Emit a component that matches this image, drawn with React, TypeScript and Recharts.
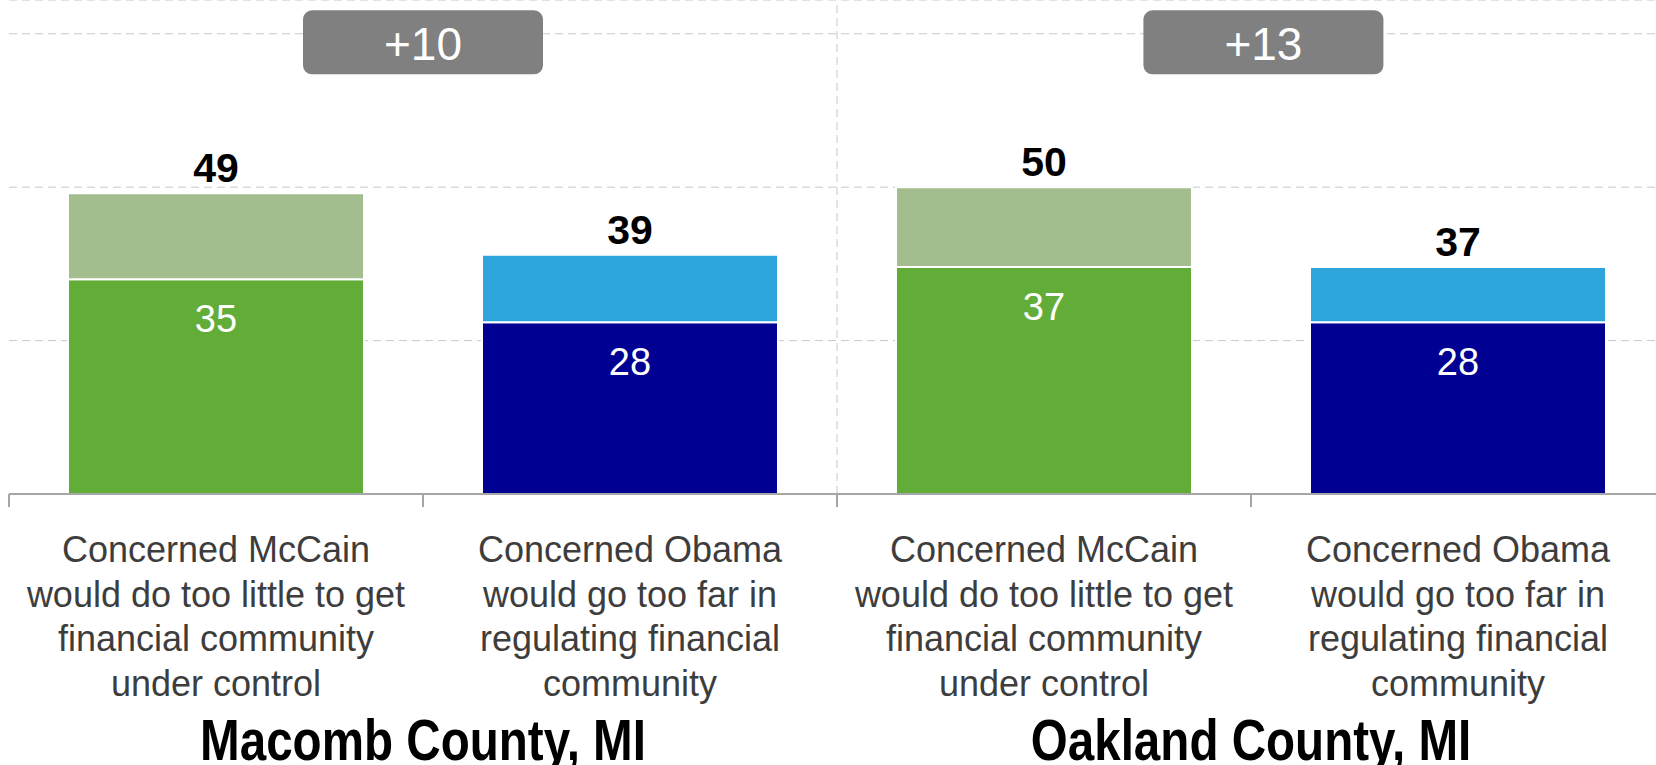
import React from "react";
import {
  BarChart,
  Bar,
  XAxis,
  YAxis,
  CartesianGrid,
  ReferenceLine,
  ReferenceDot,
  LabelList,
  Cell,
} from "recharts";

// Categories, two per county
const categories = ["macomb-mccain", "macomb-obama", "oakland-mccain", "oakland-obama"];
const categoryLines = [
  ["Concerned McCain", "would do too little to get", "financial community", "under control"],
  ["Concerned Obama", "would go too far in", "regulating financial", "community"],
  ["Concerned McCain", "would do too little to get", "financial community", "under control"],
  ["Concerned Obama", "would go too far in", "regulating financial", "community"],
];
const groupTitles = ["Macomb County, MI", "Oakland County, MI"];

// Values
const strongValues = [35, 28, 37, 28];
const totalValues = [49, 39, 50, 37];
const gapLabels = ["+10", "+13"];
const gapPositions = [1, 3.03];
const yTicks = [0, 25, 50, 75];

const baseColors = ["#62ad38", "#000092", "#62ad38", "#000092"];
const topColors = ["#a3bd8f", "#2ea5dc", "#a3bd8f", "#2ea5dc"];

const FONT = '"Liberation Sans", Arial, Helvetica, sans-serif';
const BADGE_LEVEL = 73.6;

const data = categories.map((name, i) => ({
  name,
  slot: i + 0.5,
  strong: strongValues[i],
  rest: totalValues[i] - strongValues[i],
  total: totalValues[i],
}));

const CategoryTick = (props: any) => {
  const { x, y, payload } = props;
  const index = props.index ?? payload?.index ?? 0;
  const half = payload?.offset ?? 207;
  const lines = categoryLines[index] ?? [];
  return (
    <g>
      <line x1={x - half} x2={x - half} y1={y} y2={y + 13} stroke="#a6a6a6" strokeWidth={2} />
      <text textAnchor="middle" fontSize={36} fill="#3d3d3d" fontFamily={FONT}>
        {lines.map((line, k) => (
          <tspan key={k} x={x} y={y + 68 + k * 44.5}>
            {line}
          </tspan>
        ))}
      </text>
      {index % 2 === 0 && (
        <text
          transform={`translate(${x + half}, ${y + 266}) scale(0.835, 1)`}
          textAnchor="middle"
          fontSize={57}
          fontWeight="bold"
          fill="#000"
          fontFamily={FONT}
        >
          {groupTitles[index / 2]}
        </text>
      )}
    </g>
  );
};

const InsideLabel = (props: any) => {
  const { x, y, width, value } = props;
  return (
    <text x={x + width / 2} y={y + 53} textAnchor="middle" fontSize={38} fill="#fff" fontFamily={FONT}>
      {value}
    </text>
  );
};

const TotalLabel = (props: any) => {
  const { x, y, width, value } = props;
  return (
    <text
      x={x + width / 2}
      y={y - 11}
      textAnchor="middle"
      fontSize={41}
      fontWeight="bold"
      fill="#000"
      fontFamily={FONT}
    >
      {value}
    </text>
  );
};

const badgeShape = (label: string) => (p: any) => (
  <g>
    <rect x={p.cx - 120} y={p.cy - 32} width={240} height={64} rx={9} ry={9} fill="#808080" />
    <text x={p.cx} y={p.cy + 18} textAnchor="middle" fontSize={46} fill="#fff" fontFamily={FONT}>
      {label}
    </text>
  </g>
);

export default function App() {
  return (
    <div
      style={{
        position: "absolute",
        left: 0,
        top: 0,
        width: 1656,
        height: 765,
        overflow: "hidden",
        background: "#fff",
      }}
    >
      <BarChart
        width={1670}
        height={765}
        data={data}
        margin={{ top: 0, right: 5, left: 9, bottom: 0 }}
      >
        <CartesianGrid vertical={false} stroke="#c8c8c8" strokeDasharray="8 5" />
        <XAxis
          dataKey="name"
          height={271}
          tickSize={0}
          tickMargin={0}
          tickLine={false}
          interval={0}
          axisLine={{ stroke: "#a6a6a6", strokeWidth: 2 }}
          tick={<CategoryTick />}
        />
        <XAxis
          xAxisId="sep"
          dataKey="slot"
          type="number"
          scale="linear"
          domain={[0, 4]}
          allowDataOverflow
          hide
        />
        <YAxis domain={[0, 80.5]} ticks={yTicks} hide />
        <ReferenceLine x={2} xAxisId="sep" stroke="#c8c8c8" strokeDasharray="8 5" />
        <Bar dataKey="strong" stackId="a" barSize={296} stroke="#fff" strokeWidth={2} isAnimationActive={false}>
          {data.map((d, i) => (
            <Cell key={d.name} fill={baseColors[i]} />
          ))}
          <LabelList dataKey="strong" content={<InsideLabel />} />
        </Bar>
        <Bar dataKey="rest" stackId="a" barSize={296} stroke="#fff" strokeWidth={2} isAnimationActive={false}>
          {data.map((d, i) => (
            <Cell key={d.name} fill={topColors[i]} />
          ))}
          <LabelList dataKey="total" content={<TotalLabel />} />
        </Bar>
        {gapLabels.map((label, i) => (
          <ReferenceDot
            key={label}
            x={gapPositions[i]}
            y={BADGE_LEVEL}
            xAxisId="sep"
            ifOverflow="visible"
            shape={badgeShape(label)}
          />
        ))}
      </BarChart>
    </div>
  );
}
